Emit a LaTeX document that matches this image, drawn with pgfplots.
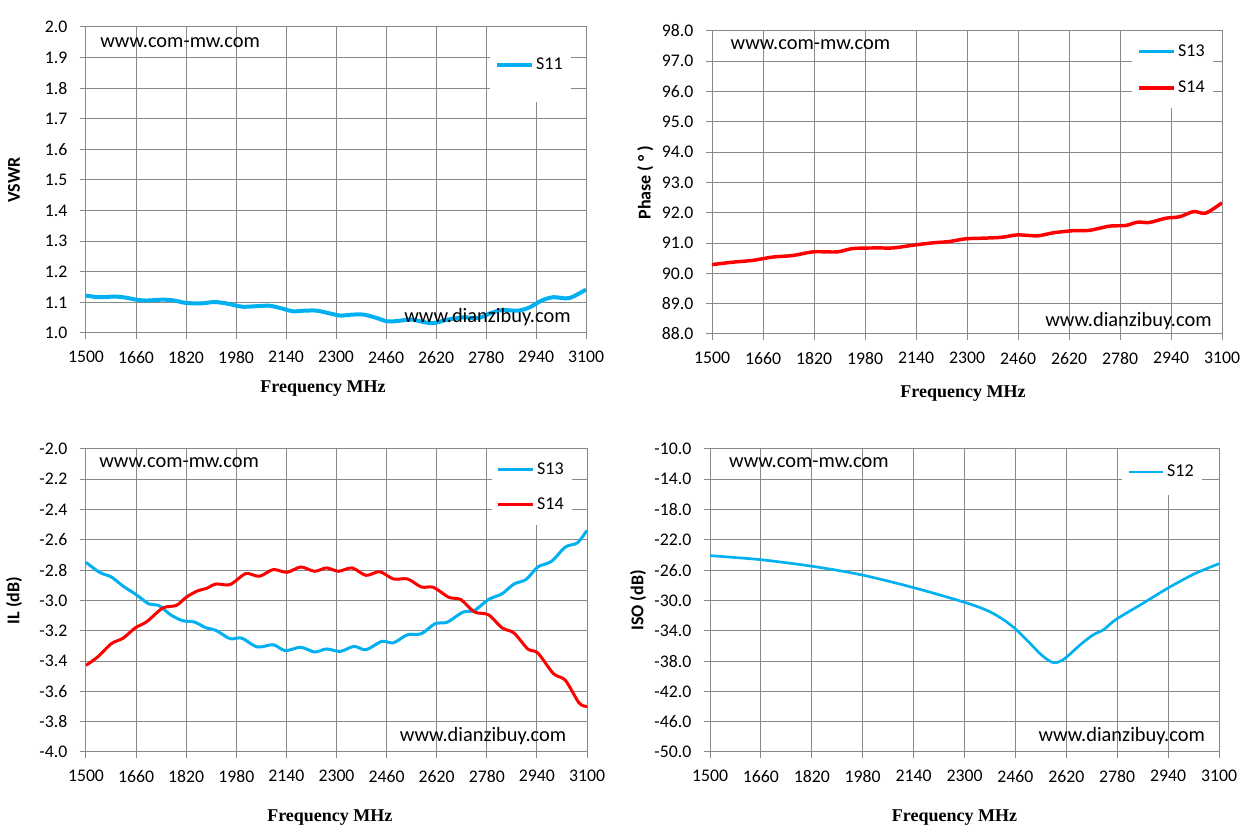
\documentclass[border=0pt]{standalone}
\usepackage{pgfplots}
\pgfplotsset{compat=1.18}
\usepackage{fontspec}
\setmainfont{Carlito}
\newfontfamily\lblfont{Liberation Serif}
\definecolor{cy}{HTML}{00B0F0}
\definecolor{rd}{HTML}{FF0000}
\definecolor{gr}{HTML}{888888}
\tikzset{wm/.style={font=\fontsize{15.3}{17}\selectfont, anchor=west, inner sep=0pt}}
\pgfplotsset{
  base/.style={
    scale only axis,
    xmin=1500, xmax=3100,
    xtick={1500,1660,...,3100},
    grid=major,
    grid style={draw=gr, line width=0.75pt},
    axis line style={draw=gr, line width=0.75pt},
    major tick style={draw=gr, line width=0.75pt},
    tick align=outside, major tick length=4.5pt,
    xtick pos=bottom, ytick pos=left,
    /pgf/number format/assume math mode=true,
    tick label style={font=\fontsize{13.3}{15}\selectfont},
    xticklabel style={yshift=-5.5pt, /pgf/number format/.cd, set thousands separator={}},
    yticklabel style={xshift=-6pt, /pgf/number format/.cd, fixed, fixed zerofill, precision=1},
    scaled ticks=false,
    ylabel style={font=\bfseries\fontsize{13.5}{15}\selectfont},
    xlabel style={at={(axis description cs:0.5,0)}, anchor=center, font=\lblfont\bfseries\fontsize{13.5}{15}\selectfont},
    xlabel={Frequency MHz},
    legend cell align=left,
    legend image code/.code={\draw[##1] (0pt,0pt) -- (26pt,0pt);},
    legend style={draw=none, fill=white, font=\fontsize{13.5}{15}\selectfont, at={(1,1)}, anchor=north east},
  },
}
\begin{document}
\begin{tikzpicture}
\useasboundingbox (0,0) rectangle (936.75pt,627.75pt);
% ---------------- top-left: VSWR
\begin{axis}[base,
  at={(64.5pt,607.5pt)}, anchor=north west,
  width=375pt, height=229.5pt,
  ymin=1.0, ymax=2.0, ytick={1.0,1.1,...,2.01},
  ylabel={VSWR}, ylabel style={at={([xshift=-54pt]axis description cs:0,0.5)}, anchor=center},
  xlabel style={yshift=-42pt, xshift=-9.75pt},
  legend style={xshift=-11.25pt, inner xsep=4pt, inner ysep=21pt},
]
\addplot[cy, line width=3pt, smooth] coordinates {
(1500,1.122)(1543,1.117)(1593,1.119)(1631,1.115)(1660,1.109)(1694,1.106)
(1745,1.109)(1783,1.106)(1821,1.098)(1871,1.097)(1909,1.101)(1947,1.097)
(1998,1.086)(2035,1.087)(2086,1.089)(2124,1.081)(2162,1.071)(2200,1.073)
(2238,1.073)(2276,1.065)(2314,1.057)(2352,1.060)(2389,1.060)(2427,1.050)
(2465,1.038)(2503,1.040)(2541,1.044)(2579,1.036)(2611,1.032)(2655,1.043)
(2706,1.051)(2756,1.049)(2793,1.064)(2831,1.075)(2882,1.073)(2920,1.084)
(2958,1.106)(2996,1.117)(3046,1.114)(3100,1.142)};
\addlegendentry{S11}
\node[wm] at (rel axis cs:0.028,0.948) {www.com-mw.com};
\node[wm] at (rel axis cs:0.636,0.051) {www.dianzibuy.com};
\end{axis}
% ---------------- top-right: Phase
\begin{axis}[base,
  at={(534pt,604.5pt)}, anchor=north west,
  width=382.5pt, height=227.25pt,
  ymin=88, ymax=98, ytick={88,89,...,98},
  ylabel={Phase ( ° )}, ylabel style={at={([xshift=-50pt]axis description cs:0,0.5)}, anchor=center},
  xlabel style={yshift=-45pt, xshift=-3pt},
  legend style={xshift=-6.75pt, inner xsep=4pt, inner ysep=8pt, row sep=13pt},
]
\addlegendimage{cy, line width=2.25pt}
\addlegendentry{S13}
\addplot[rd, line width=2.6pt, smooth] coordinates {
(1500,90.29)(1565,90.37)(1628,90.43)(1691,90.54)(1754,90.59)(1817,90.71)
(1892,90.71)(1942,90.82)(2018,90.84)(2068,90.84)(2131,90.93)(2194,91.01)
(2244,91.05)(2294,91.14)(2345,91.16)(2408,91.19)(2458,91.27)(2521,91.24)
(2571,91.34)(2634,91.41)(2684,91.42)(2747,91.56)(2797,91.58)(2835,91.69)
(2872,91.68)(2923,91.82)(2967,91.87)(3011,92.04)(3049,91.99)(3100,92.33)};
\addlegendentry{S14}
\node[wm] at (rel axis cs:0.036,0.954) {www.com-mw.com};
\node[wm] at (rel axis cs:0.653,0.043) {www.dianzibuy.com};
\end{axis}
% ---------------- bottom-left: IL
\begin{axis}[base,
  at={(64.5pt,291pt)}, anchor=north west,
  width=375.75pt, height=227.25pt,
  ymin=-4.0, ymax=-2.0, ytick={-4.0,-3.8,...,-1.99},
  ylabel={IL (dB)}, ylabel style={at={([xshift=-54pt]axis description cs:0,0.5)}, anchor=center},
  xlabel style={yshift=-49pt, xshift=-5pt},
  legend style={xshift=-11.25pt, inner xsep=4pt, inner ysep=8pt, row sep=12pt},
]
\addplot[cy, line width=2.25pt, smooth] coordinates {
(1500,-2.748)(1543,-2.814)(1581,-2.845)(1619,-2.906)(1660,-2.961)(1701,-3.023)
(1732,-3.032)(1770,-3.094)(1808,-3.133)(1846,-3.142)(1884,-3.181)(1915,-3.197)
(1960,-3.252)(1997,-3.248)(2047,-3.307)(2098,-3.292)(2136,-3.331)(2186,-3.309)
(2230,-3.340)(2268,-3.320)(2312,-3.336)(2356,-3.303)(2394,-3.325)(2445,-3.270)
(2482,-3.279)(2527,-3.226)(2571,-3.219)(2615,-3.153)(2653,-3.144)(2703,-3.078)
(2741,-3.065)(2785,-2.994)(2829,-2.955)(2867,-2.891)(2905,-2.862)(2943,-2.779)
(2987,-2.741)(3031,-2.647)(3069,-2.620)(3100,-2.537)};
\addlegendentry{S13}
\addplot[rd, line width=2.25pt, smooth] coordinates {
(1500,-3.428)(1537,-3.373)(1581,-3.285)(1619,-3.248)(1657,-3.181)(1694,-3.140)
(1745,-3.050)(1789,-3.032)(1821,-2.977)(1858,-2.935)(1884,-2.921)(1915,-2.891)
(1960,-2.895)(2010,-2.823)(2054,-2.840)(2098,-2.796)(2142,-2.814)(2186,-2.779)
(2230,-2.807)(2268,-2.785)(2306,-2.807)(2350,-2.785)(2394,-2.834)(2438,-2.810)
(2482,-2.858)(2527,-2.858)(2571,-2.911)(2609,-2.913)(2659,-2.979)(2697,-2.994)
(2741,-3.076)(2785,-3.094)(2829,-3.181)(2867,-3.215)(2911,-3.320)(2943,-3.347)
(2993,-3.483)(3031,-3.527)(3075,-3.677)(3100,-3.699)};
\addlegendentry{S14}
\node[wm] at (rel axis cs:0.026,0.954) {www.com-mw.com};
\node[wm] at (rel axis cs:0.626,0.053) {www.dianzibuy.com};
\end{axis}
% ---------------- bottom-right: ISO
\begin{axis}[base,
  at={(532.5pt,291pt)}, anchor=north west,
  width=381.75pt, height=227.25pt,
  ymin=-50, ymax=-10, ytick={-50,-46,...,-10},
  ylabel={ISO (dB)}, ylabel style={at={([xshift=-54pt]axis description cs:0,0.5)}, anchor=center},
  xlabel style={yshift=-49pt, xshift=-7.5pt},
  legend style={xshift=-12.75pt, inner xsep=4pt, inner ysep=10pt},
]
\addplot[cy, line width=2pt, smooth] coordinates {
(1500,-24.08)(1658,-24.61)(1822,-25.49)(1973,-26.59)(2137,-28.27)(2301,-30.25)
(2377,-31.43)(2427,-32.67)(2465,-33.94)(2503,-35.53)(2541,-37.16)(2573,-38.12)
(2592,-38.17)(2617,-37.60)(2668,-35.70)(2705,-34.52)(2737,-33.86)(2775,-32.54)
(2857,-30.47)(2940,-28.35)(3022,-26.50)(3100,-25.14)};
\addlegendentry{S12}
\node[wm] at (rel axis cs:0.037,0.954) {www.com-mw.com};
\node[wm] at (rel axis cs:0.645,0.053) {www.dianzibuy.com};
\end{axis}
\end{tikzpicture}
\end{document}
